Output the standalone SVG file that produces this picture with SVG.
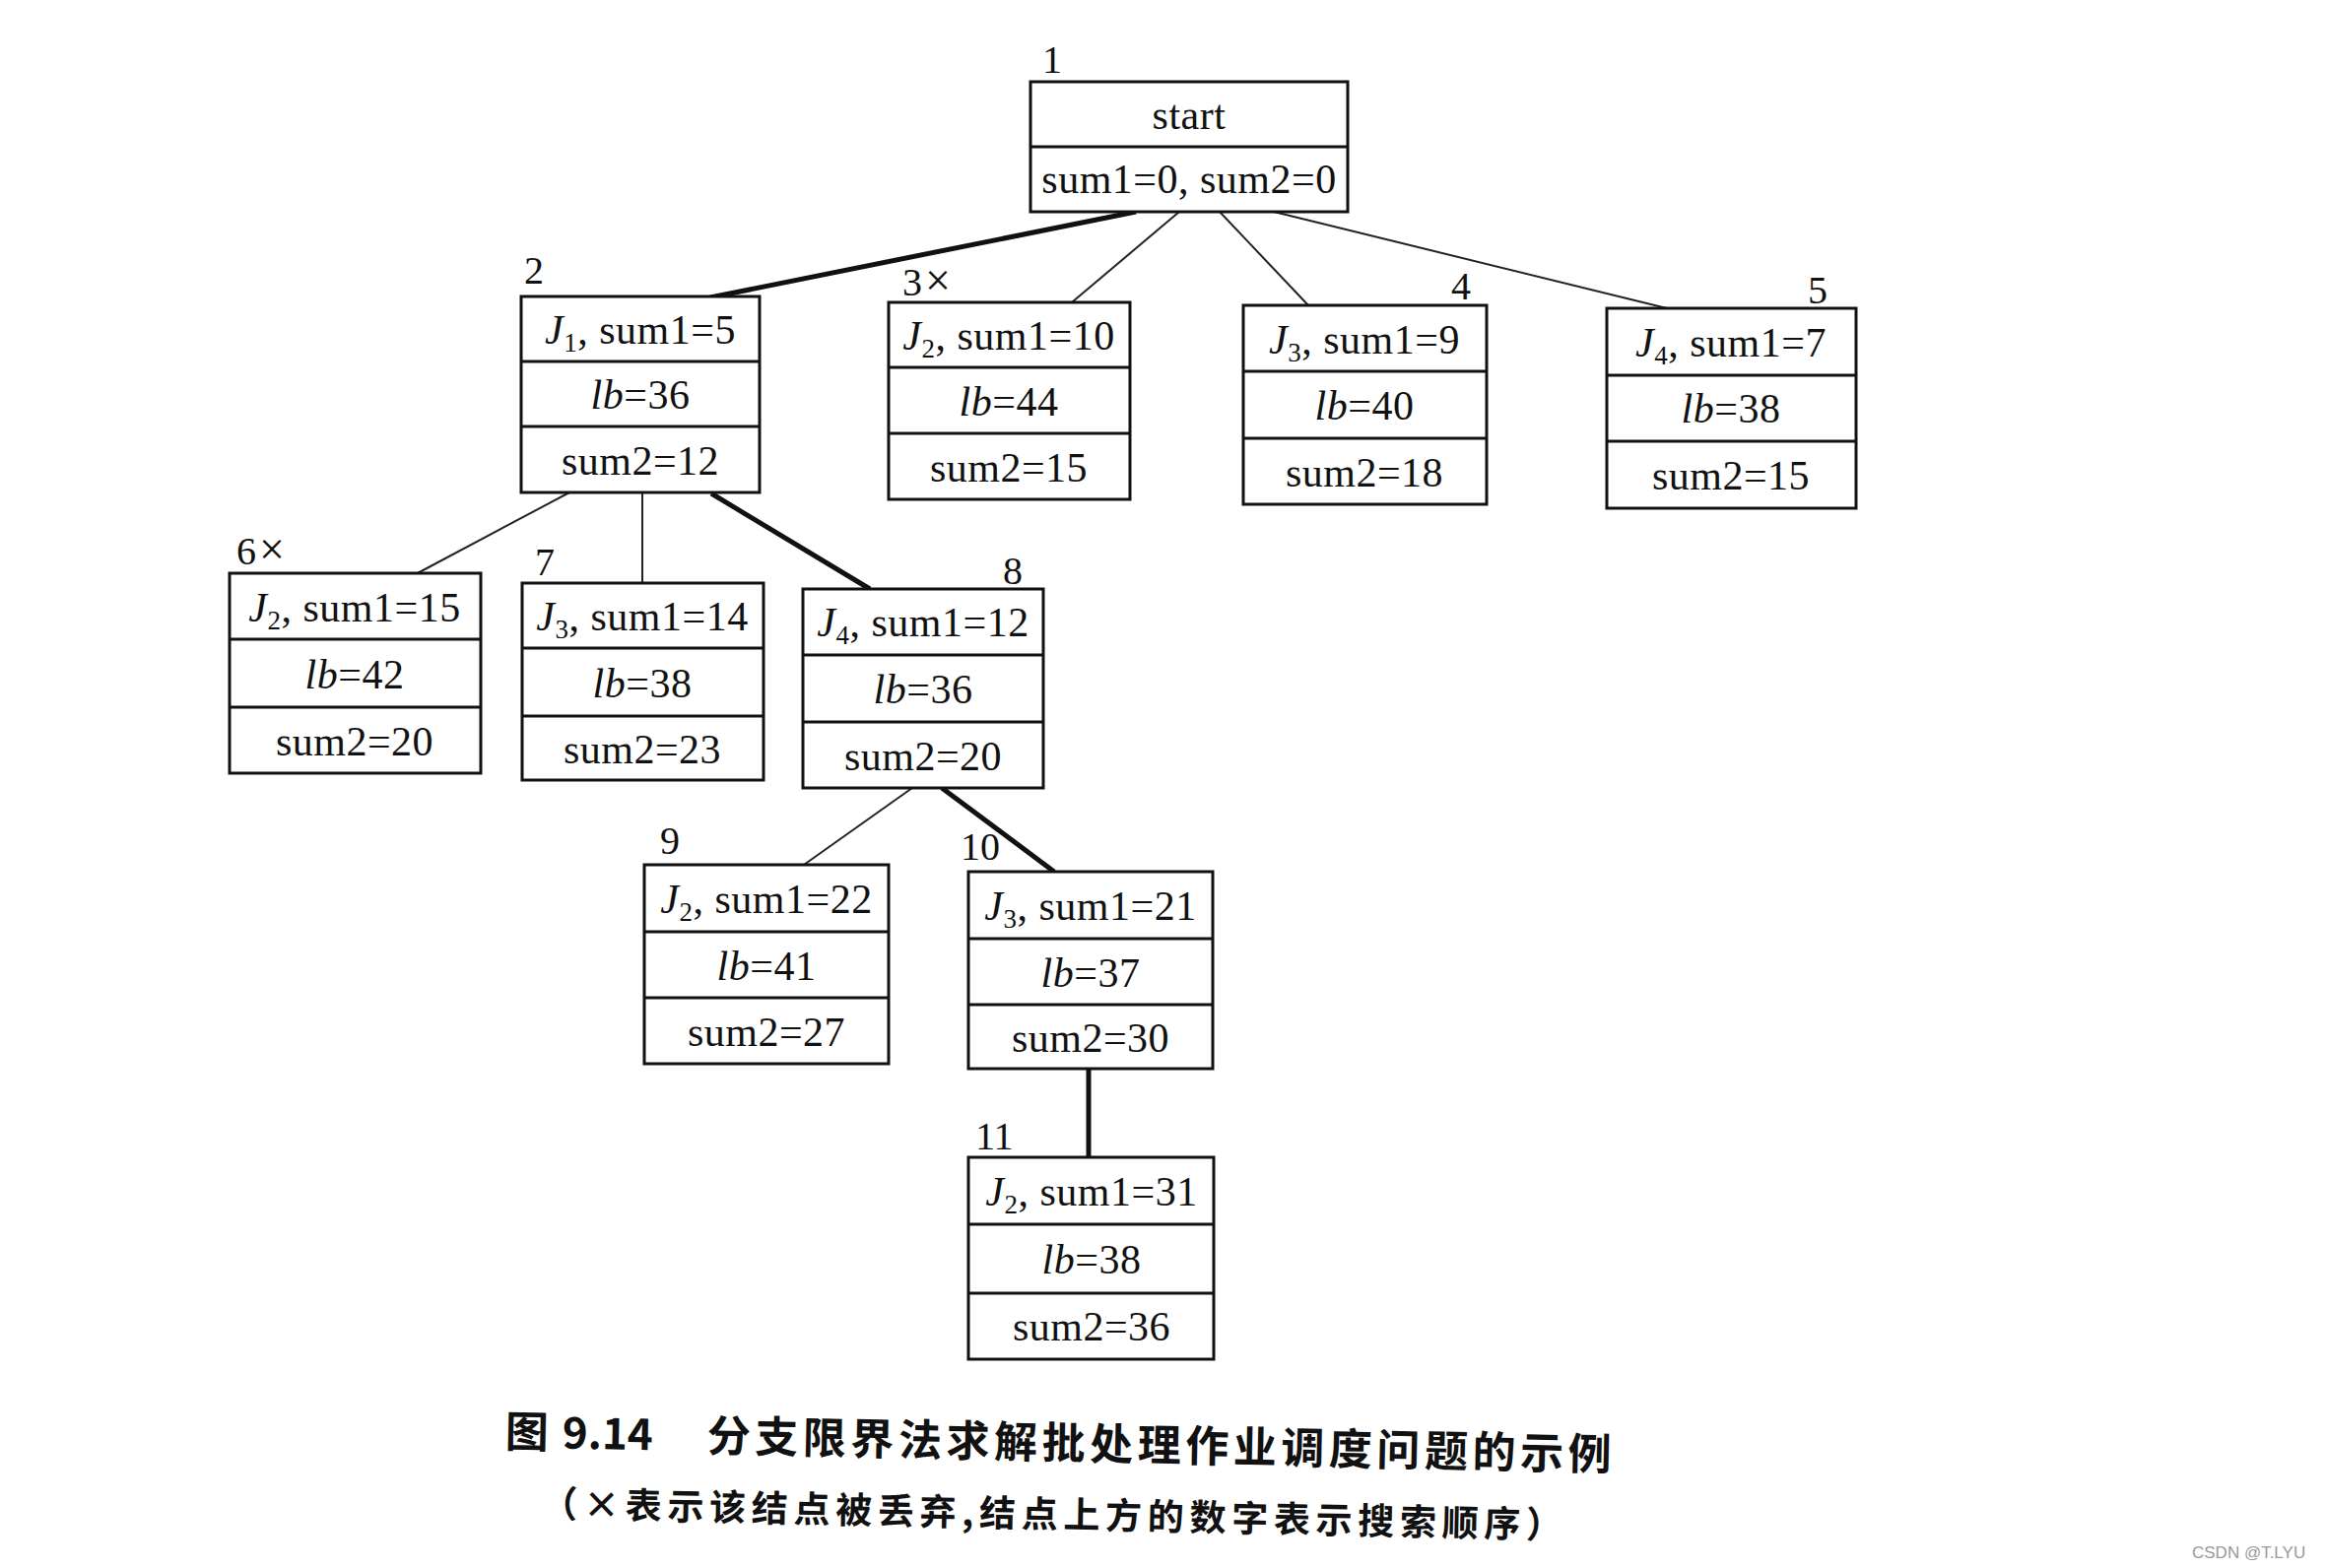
<svg xmlns="http://www.w3.org/2000/svg" width="2360" height="1592" viewBox="0 0 2360 1592">
<style>
.box{fill:#fff;stroke:#111;stroke-width:3}
.div{stroke:#111;stroke-width:3}
.t{font-family:"Liberation Serif","Times New Roman",serif;font-size:42px;letter-spacing:0.5px;fill:#111;text-anchor:middle}
.i{font-style:italic}
.sub{font-size:27px}
.lbl{font-family:"Liberation Serif","Times New Roman",serif;font-size:40px;fill:#111}
.x{font-size:46px}
.thin{stroke:#222;stroke-width:2;fill:none}
.thick{stroke:#111;stroke-width:5;fill:none}
.cap{font-family:"Noto Sans CJK SC","Noto Sans CJK JP",sans-serif;font-weight:bold;fill:#111}
</style>
<rect width="2360" height="1592" fill="#fff"/>

<g id="connectors">
<line class="thick" x1="1153" y1="215" x2="721" y2="302"/>
<line class="thin" x1="1197" y1="215" x2="1088" y2="307"/>
<line class="thin" x1="1238" y1="215" x2="1328" y2="310"/>
<line class="thin" x1="1293" y1="215" x2="1692" y2="313" stroke="#555"/>
<line class="thin" x1="578" y1="500" x2="420" y2="584"/>
<line class="thin" x1="652" y1="500" x2="652" y2="593"/>
<line class="thick" x1="722" y1="501" x2="883" y2="598"/>
<line class="thin" x1="926" y1="800" x2="816" y2="878"/>
<line class="thick" x1="956" y1="800" x2="1070" y2="885"/>
<line class="thick" x1="1105" y1="1085" x2="1105" y2="1175"/>
</g>

<g id="node1">
<text class="lbl" x="1058" y="74">1</text>
<rect class="box" x="1046" y="83" width="322" height="132"/>
<line class="div" x1="1046" y1="149" x2="1368" y2="149"/>
<text class="t" x="1207" y="131">start</text>
<text class="t" x="1207" y="196">sum1=0, sum2=0</text>
</g>

<g id="node2">
<text class="lbl" x="532" y="288">2</text>
<rect class="box" x="529" y="301" width="242" height="199"/>
<line class="div" x1="529" y1="367" x2="771" y2="367"/>
<line class="div" x1="529" y1="433" x2="771" y2="433"/>
<text class="t" x="650" y="349"><tspan class="i">J</tspan><tspan class="sub" dy="8">1</tspan><tspan dy="-8">, sum1=5</tspan></text>
<text class="t" x="650" y="415"><tspan class="i">lb</tspan>=36</text>
<text class="t" x="650" y="482">sum2=12</text>
</g>

<g id="node3">
<text class="lbl" x="916" y="300">3<tspan class="x" dx="3">×</tspan></text>
<rect class="box" x="902" y="307" width="245" height="200"/>
<line class="div" x1="902" y1="373" x2="1147" y2="373"/>
<line class="div" x1="902" y1="440" x2="1147" y2="440"/>
<text class="t" x="1024" y="355"><tspan class="i">J</tspan><tspan class="sub" dy="8">2</tspan><tspan dy="-8">, sum1=10</tspan></text>
<text class="t" x="1024" y="422"><tspan class="i">lb</tspan>=44</text>
<text class="t" x="1024" y="489">sum2=15</text>
</g>

<g id="node4">
<text class="lbl" x="1473" y="304">4</text>
<rect class="box" x="1262" y="310" width="247" height="202"/>
<line class="div" x1="1262" y1="377" x2="1509" y2="377"/>
<line class="div" x1="1262" y1="445" x2="1509" y2="445"/>
<text class="t" x="1385" y="359"><tspan class="i">J</tspan><tspan class="sub" dy="8">3</tspan><tspan dy="-8">, sum1=9</tspan></text>
<text class="t" x="1385" y="426"><tspan class="i">lb</tspan>=40</text>
<text class="t" x="1385" y="494">sum2=18</text>
</g>

<g id="node5">
<text class="lbl" x="1835" y="308" fill="#444">5</text>
<rect class="box" x="1631" y="313" width="253" height="203" stroke="#333"/>
<line class="div" x1="1631" y1="381" x2="1884" y2="381" stroke="#333"/>
<line class="div" x1="1631" y1="448" x2="1884" y2="448" stroke="#333"/>
<text class="t" x="1757" y="362" fill="#444"><tspan class="i">J</tspan><tspan class="sub" dy="8">4</tspan><tspan dy="-8">, sum1=7</tspan></text>
<text class="t" x="1757" y="429" fill="#444"><tspan class="i">lb</tspan>=38</text>
<text class="t" x="1757" y="497" fill="#444">sum2=15</text>
</g>

<g id="node6">
<text class="lbl" x="240" y="573">6<tspan class="x" dx="3">×</tspan></text>
<rect class="box" x="233" y="582" width="255" height="203"/>
<line class="div" x1="233" y1="649" x2="488" y2="649"/>
<line class="div" x1="233" y1="718" x2="488" y2="718"/>
<text class="t" x="360" y="631"><tspan class="i">J</tspan><tspan class="sub" dy="8">2</tspan><tspan dy="-8">, sum1=15</tspan></text>
<text class="t" x="360" y="699"><tspan class="i">lb</tspan>=42</text>
<text class="t" x="360" y="767">sum2=20</text>
</g>

<g id="node7">
<text class="lbl" x="543" y="584">7</text>
<rect class="box" x="530" y="592" width="245" height="200"/>
<line class="div" x1="530" y1="658" x2="775" y2="658"/>
<line class="div" x1="530" y1="727" x2="775" y2="727"/>
<text class="t" x="652" y="640"><tspan class="i">J</tspan><tspan class="sub" dy="8">3</tspan><tspan dy="-8">, sum1=14</tspan></text>
<text class="t" x="652" y="708"><tspan class="i">lb</tspan>=38</text>
<text class="t" x="652" y="775">sum2=23</text>
</g>

<g id="node8">
<text class="lbl" x="1018" y="593">8</text>
<rect class="box" x="815" y="598" width="244" height="202"/>
<line class="div" x1="815" y1="665" x2="1059" y2="665"/>
<line class="div" x1="815" y1="733" x2="1059" y2="733"/>
<text class="t" x="937" y="646"><tspan class="i">J</tspan><tspan class="sub" dy="8">4</tspan><tspan dy="-8">, sum1=12</tspan></text>
<text class="t" x="937" y="714"><tspan class="i">lb</tspan>=36</text>
<text class="t" x="937" y="782">sum2=20</text>
</g>

<g id="node9">
<text class="lbl" x="670" y="867">9</text>
<rect class="box" x="654" y="878" width="248" height="202"/>
<line class="div" x1="654" y1="946" x2="902" y2="946"/>
<line class="div" x1="654" y1="1013" x2="902" y2="1013"/>
<text class="t" x="778" y="927"><tspan class="i">J</tspan><tspan class="sub" dy="8">2</tspan><tspan dy="-8">, sum1=22</tspan></text>
<text class="t" x="778" y="995"><tspan class="i">lb</tspan>=41</text>
<text class="t" x="778" y="1062">sum2=27</text>
</g>

<g id="node10">
<text class="lbl" x="975" y="873">10</text>
<rect class="box" x="983" y="885" width="248" height="200"/>
<line class="div" x1="983" y1="953" x2="1231" y2="953"/>
<line class="div" x1="983" y1="1020" x2="1231" y2="1020"/>
<text class="t" x="1107" y="934"><tspan class="i">J</tspan><tspan class="sub" dy="8">3</tspan><tspan dy="-8">, sum1=21</tspan></text>
<text class="t" x="1107" y="1002"><tspan class="i">lb</tspan>=37</text>
<text class="t" x="1107" y="1068">sum2=30</text>
</g>

<g id="node11">
<text class="lbl" x="990" y="1167">11</text>
<rect class="box" x="983" y="1175" width="249" height="205"/>
<line class="div" x1="983" y1="1243" x2="1232" y2="1243"/>
<line class="div" x1="983" y1="1313" x2="1232" y2="1313"/>
<text class="t" x="1108" y="1224"><tspan class="i">J</tspan><tspan class="sub" dy="8">2</tspan><tspan dy="-8">, sum1=31</tspan></text>
<text class="t" x="1108" y="1293"><tspan class="i">lb</tspan>=38</text>
<text class="t" x="1108" y="1361">sum2=36</text>
</g>

<g id="caption" transform="rotate(1.2 1075 1500)">
<text class="cap" x="512" y="1481" font-size="44">图</text>
<text class="cap" x="570" y="1481" font-size="44" textLength="92" lengthAdjust="spacingAndGlyphs">9.14</text>
<text class="cap" x="717" y="1481" font-size="44" textLength="918" lengthAdjust="spacing">分支限界法求解批处理作业调度问题的示例</text>
<text class="cap" x="550" y="1551" font-size="37" textLength="1037" lengthAdjust="spacing">（×表示该结点被丢弃,结点上方的数字表示搜索顺序）</text>
</g>

<text x="2225" y="1582" font-family="Liberation Sans, Arial, sans-serif" font-size="17" fill="#999">CSDN @T.LYU</text>
</svg>
